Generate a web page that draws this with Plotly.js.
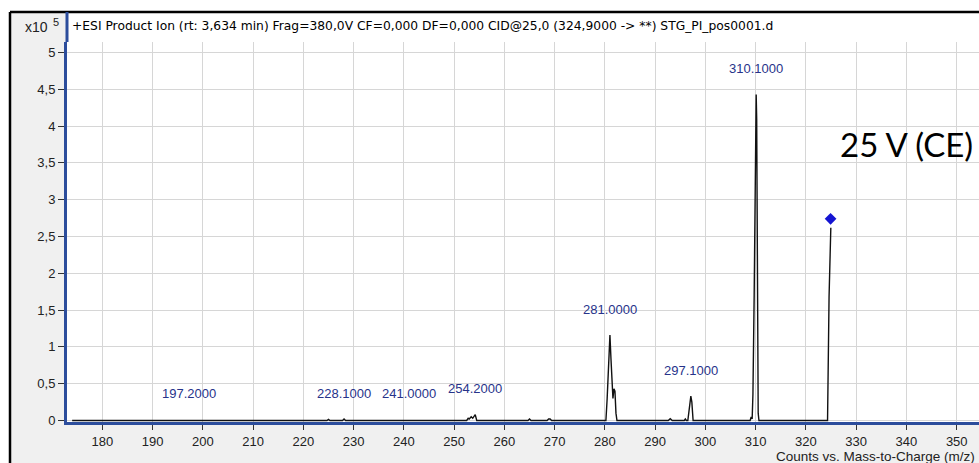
<!DOCTYPE html>
<html>
<head>
<meta charset="utf-8">
<script src="https://cdn.plot.ly/plotly-3.0.1.min.js"></script>
<style>
  html, body { margin: 0; padding: 0; overflow: hidden; background: #ffffff; }
  #chart { width: 1000px; height: 463px; }
</style>
</head>
<body>
<div id="chart"></div>
<script>
// Profile spectrum (m/z, counts x10^5)
const mz = [
  174.0, 196.9, 197.2, 197.5, 224.7, 225.0, 225.3, 227.8, 228.1, 228.4,
  240.7, 241.0, 241.3, 252.5, 252.8, 253.0, 253.4, 253.7, 254.2, 254.5,
  264.7, 265.0, 265.3, 268.5, 268.8, 269.1, 269.4,
  280.2, 280.45, 280.8, 281.0, 281.2, 281.45, 281.6, 281.8, 282.0, 282.2, 282.4,
  292.6, 293.0, 293.4, 295.8, 296.0, 296.2, 296.5, 296.8, 297.1, 297.3, 297.55,
  308.9, 309.1, 309.3, 309.45, 309.7, 310.1, 310.2, 310.35, 310.5, 310.65,
  324.3, 324.6, 324.95
];
const counts = [
  0, 0, 0.008, 0, 0, 0.015, 0, 0, 0.02, 0,
  0, 0.008, 0, 0, 0.03, 0.02, 0.05, 0.03, 0.08, 0,
  0, 0.02, 0, 0, 0.02, 0.02, 0,
  0, 0.3, 1.0, 1.16, 0.85, 0.4, 0.3, 0.43, 0.4, 0.1, 0,
  0, 0.025, 0, 0, 0.02, 0, 0, 0.2, 0.33, 0.25, 0,
  0, 0.05, 0.02, 0.35, 1.7, 4.43, 4.1, 0.7, 0.1, 0,
  0, 1.68, 2.62
];

// Labelled peaks
const peakMz = [197.2, 228.1, 241.0, 254.2, 281.0, 297.1, 310.1];
const peakCounts = [0.008, 0.02, 0.008, 0.08, 1.16, 0.33, 4.43];
const peakLabels = ["197.2000", "228.1000", "241.0000", "254.2000", "281.0000", "297.1000", "310.1000"];

// Precursor ion marker
const precursorMz = [324.9];
const precursorCounts = [2.74];

const xTicks = [180, 190, 200, 210, 220, 230, 240, 250, 260, 270, 280, 290, 300, 310, 320, 330, 340, 350, 360];
const yTicks = [0, 0.5, 1, 1.5, 2, 2.5, 3, 3.5, 4, 4.5, 5];

const titleText = "+ESI Product Ion (rt: 3,634 min) Frag=380,0V CF=0,000 DF=0,000 CID@25,0 (324,9000 -> **) STG_PI_pos0001.d";
const xTitleText = "Counts vs. Mass-to-Charge (m/z)";
const ceText = "25 V (CE)";
const scaleBase = "x10";
const scaleExp = "5";

// Frame geometry (pixels) and helpers mapping pixels to paper coordinates
const W = 1000, H = 463;
const M = { l: 67, r: 12, t: 42, b: 41 };
const PW = W - M.l - M.r, PH = H - M.t - M.b;
const px = v => (v - M.l) / PW;
const py = v => (H - M.b - v) / PH;

const AXIS_BLUE = "#2c4d9c";
const FONT = "Liberation Sans, Arial, sans-serif";
const UI_FONT = "DejaVu Sans, Verdana, sans-serif";

const traces = [
  {
    x: mz, y: counts, type: "scatter", mode: "lines",
    line: { color: "#111111", width: 1.4 },
    hoverinfo: "skip", showlegend: false
  },
  {
    x: precursorMz, y: precursorCounts, type: "scatter", mode: "markers",
    marker: { symbol: "diamond", color: "#1414d2", size: 9 },
    hoverinfo: "skip", showlegend: false
  }
];

const annotations = peakMz.map((m, i) => ({
  x: m, y: peakCounts[i], xref: "x", yref: "y",
  text: peakLabels[i], showarrow: false,
  yanchor: "middle", yshift: 26,
  font: { family: FONT, size: 13, color: "#27338a" }
}));

annotations.push(
  { xref: "paper", yref: "paper", x: px(70), y: py(26), xanchor: "left", yanchor: "middle",
    text: titleText, showarrow: false, font: { family: UI_FONT, size: 12.3, color: "#000000" } },
  { xref: "paper", yref: "paper", x: px(50), y: py(27), xanchor: "right", yanchor: "middle",
    text: scaleBase, showarrow: false, font: { family: FONT, size: 14, color: "#222222" } },
  { xref: "paper", yref: "paper", x: px(51), y: py(22), xanchor: "left", yanchor: "middle",
    text: scaleExp, showarrow: false, font: { family: FONT, size: 11, color: "#222222" } },
  { xref: "paper", yref: "paper", x: px(977), y: py(456), xanchor: "right", yanchor: "middle",
    text: xTitleText, showarrow: false, font: { family: FONT, size: 13.5, color: "#222222" } },
  { xref: "paper", yref: "paper", x: px(838), y: py(144), xanchor: "left", yanchor: "middle",
    text: ceText, showarrow: false, font: { family: "Lato, sans-serif", size: 33, color: "#000000" } }
);

const shapes = [
  // gray window panel inside the black frame
  { type: "rect", xref: "paper", yref: "paper", layer: "below",
    x0: px(10), x1: px(W + 5), y0: py(H + 5), y1: py(12),
    fillcolor: "#f0f0f0", line: { width: 0 } },
  // white strip holding the title plus the plotting area
  { type: "rect", xref: "paper", yref: "paper", layer: "below",
    x0: 0, x1: 1, y0: 0, y1: py(12),
    fillcolor: "#ffffff", line: { width: 0 } },
  // black frame edges
  { type: "line", xref: "paper", yref: "paper", x0: px(10), x1: px(W + 5), y0: py(12), y1: py(12),
    line: { color: "#000000", width: 2.5 } },
  { type: "line", xref: "paper", yref: "paper", x0: px(10), x1: px(10), y0: py(12), y1: py(H + 5),
    line: { color: "#000000", width: 2.5 } },
  // y axis line continued through the title strip
  { type: "line", xref: "paper", yref: "paper", x0: 0, x1: 0, y0: 1, y1: py(12),
    line: { color: AXIS_BLUE, width: 3 } }
];

const layout = {
  width: W, height: H,
  margin: M,
  paper_bgcolor: "rgba(0,0,0,0)",
  plot_bgcolor: "rgba(0,0,0,0)",
  separators: ",.",
  showlegend: false,
  xaxis: {
    range: [180 - (102.3 - M.l) / 5.026, 180 + (W - M.r - 102.3) / 5.026],
    tickmode: "array", tickvals: xTicks, ticktext: xTicks.map(String),
    showgrid: true, gridcolor: "#d6d6d6", gridwidth: 1,
    zeroline: false,
    showline: true, linecolor: AXIS_BLUE, linewidth: 3,
    ticks: "outside", ticklen: 5, tickcolor: "#333333", tickwidth: 1,
    tickfont: { family: FONT, size: 13, color: "#222222" },
    fixedrange: true
  },
  yaxis: {
    range: [-1.5 / 73.6, (420.5 - M.t) / 73.6],
    tickmode: "array", tickvals: yTicks,
    showgrid: true, gridcolor: "#d6d6d6", gridwidth: 1,
    zeroline: false,
    showline: true, linecolor: AXIS_BLUE, linewidth: 3,
    ticks: "outside", ticklen: 6, tickcolor: "#333333", tickwidth: 1,
    tickfont: { family: FONT, size: 13, color: "#222222" },
    fixedrange: true
  },
  annotations: annotations,
  shapes: shapes
};

Plotly.newPlot("chart", traces, layout, { displayModeBar: false, staticPlot: true });
</script>
</body>
</html>
